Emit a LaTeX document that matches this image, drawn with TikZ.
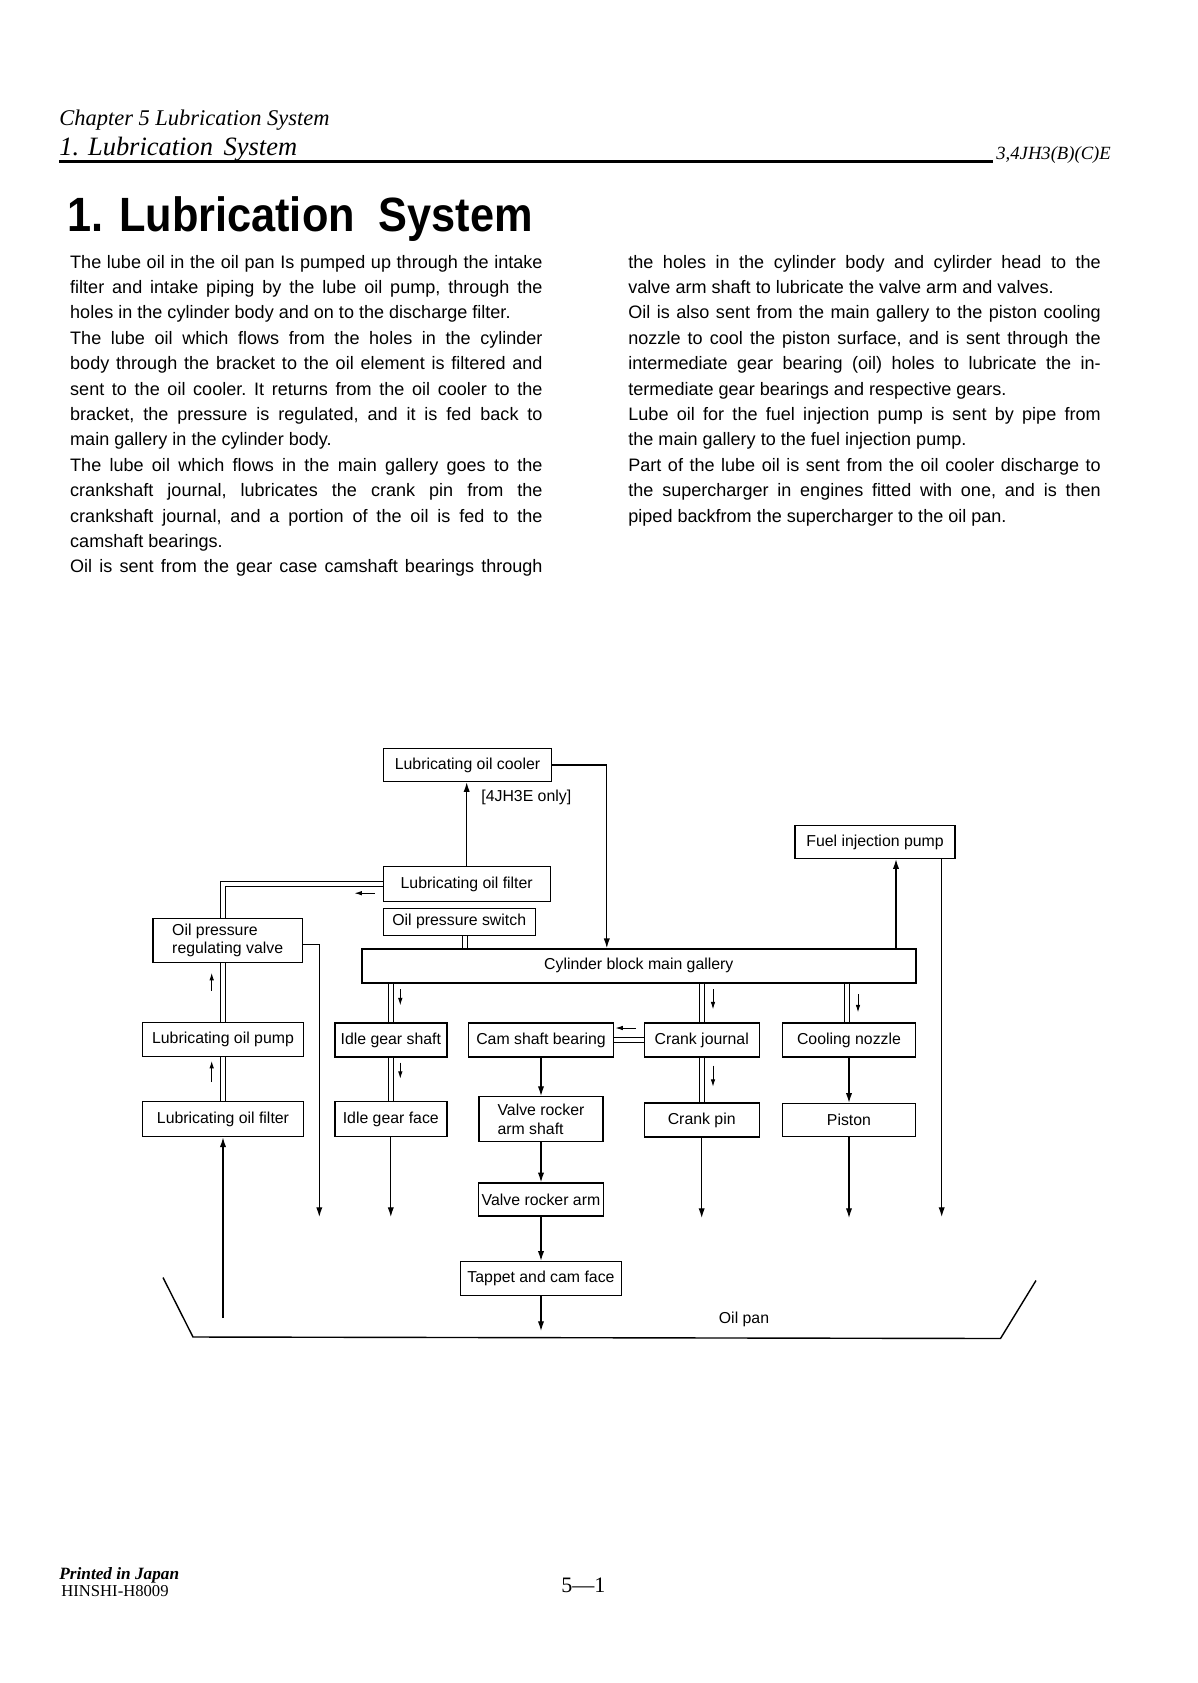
\documentclass[tikz,border=0pt]{standalone}
\usepackage{fontspec}
\usepackage{graphicx}
\usetikzlibrary{arrows.meta,calc}
\setmainfont{Liberation Serif}
\newfontfamily\sansfont{Liberation Sans}
\def\pu{0.17529mm}
\newcommand\bodyfont{\sansfont\fontsize{9}{12.67}\selectfont\parindent=0pt\frenchspacing\hbadness=10000}
\newcommand\boxfont{\sansfont\fontsize{7.9}{9.2}\selectfont}
\tikzset{
  box/.style={draw, line width=0.7pt, inner sep=1pt, minimum height=34*\pu, font=\boxfont},
  flow/.style={->, line width=0.6pt},
  dline/.style={double, double distance=0.77mm, line width=0.45pt},
  flowtick/.style={-{Latex[length=1.3mm,width=0.8mm]}, line width=0.45pt},
  bodytext/.style={anchor=base west, inner sep=0pt, text width=82.8mm, align=justify, font=\bodyfont},
  header/.style={anchor=base west, inner sep=0pt},
}
\begin{document}
\begin{tikzpicture}[x=\pu, y=-\pu, >={Latex[length=1.7mm,width=1.1mm]}]
  \path[use as bounding box, fill=white] (0,0) rectangle (1198,1683);
  % page header
  \node[header, font=\itshape\fontsize{11.2}{13}\selectfont] (chapter) at (59,125.5) {Chapter 5 Lubrication System};
  \node[header, font=\itshape\fontsize{13.2}{15}\selectfont] (section) at (59,155.5) {1. Lubrication\hspace{0.4em}System};
  \node[header, font=\itshape\fontsize{9.3}{11}\selectfont] (model) at (996,159) {3,4JH3(B)(C)E};
  \draw[line width=1.2pt] (59,161.5) -- (993,161.5);
  \node[header] (title) at (66.6,231) {\scalebox{0.9}[1]{\sansfont\bfseries\fontsize{24}{28}\selectfont 1. Lubrication\hspace{0.55em}System}};
  % two text columns
  \node[bodytext] (leftcol) at (69.8,268) {%
    The lube oil in the oil pan Is pumped up through the intake\linebreak
    filter and intake piping by the lube oil pump, through the\linebreak
    holes in the cylinder body and on to the discharge filter.\par
    The lube oil which flows from the holes in the cylinder\linebreak
    body through the bracket to the oil element is filtered and\linebreak
    sent to the oil cooler. It returns from the oil cooler to the\linebreak
    bracket, the pressure is regulated, and it is fed back to\linebreak
    main gallery in the cylinder body.\par
    The lube oil which flows in the main gallery goes to the\linebreak
    crankshaft journal, lubricates the crank pin from the\linebreak
    crankshaft journal, and a portion of the oil is fed to the\linebreak
    camshaft bearings.\par
    Oil is sent from the gear case camshaft bearings through{\parfillskip=0pt\par}};
  \node[bodytext] (rightcol) at (628,268) {%
    the holes in the cylinder body and cylirder head to the\linebreak
    valve arm shaft to lubricate the valve arm and valves.\par
    Oil is also sent from the main gallery to the piston cooling\linebreak
    nozzle to cool the piston surface, and is sent through the\linebreak
    intermediate gear bearing (oil) holes to lubricate the in-\linebreak
    termediate gear bearings and respective gears.\par
    Lube oil for the fuel injection pump is sent by pipe from\linebreak
    the main gallery to the fuel injection pump.\par
    Part of the lube oil is sent from the oil cooler discharge to\linebreak
    the supercharger in engines fitted with one, and is then\linebreak
    piped backfrom the supercharger to the oil pan.};
  % boxes of the oil circuit
  \node[box, minimum width=168*\pu, minimum height=33*\pu] (cooler) at (467.5,765) {Lubricating oil cooler};
  \node[box, minimum width=167*\pu, minimum height=35*\pu] (filtup) at (466.7,884.2) {Lubricating oil filter};
  \node[box, minimum width=152*\pu, minimum height=27*\pu] (switch) at (459.2,921.7) {Oil pressure switch};
  \node[box, minimum width=149*\pu, minimum height=44*\pu, align=left] (regvalve) at (227.7,940.2) {Oil pressure\\regulating valve};
  \node[box, minimum width=161*\pu] (pump) at (223,1039.3) {Lubricating oil pump};
  \node[box, minimum width=161*\pu, minimum height=35*\pu] (filtlow) at (223,1119.2) {Lubricating oil filter};
  \node[box, minimum width=554*\pu] (gallery) at (638.8,965.8) {Cylinder block main gallery};
  \node[box, minimum width=112*\pu] (idleshaft) at (390.8,1040) {Idle gear shaft};
  \node[box, minimum width=112*\pu, minimum height=35*\pu] (idleface) at (390.8,1119.2) {Idle gear face};
  \node[box, minimum width=145*\pu] (cam) at (541,1040) {Cam shaft bearing};
  \node[box, minimum width=115*\pu] (crankj) at (701.7,1040) {Crank journal};
  \node[box, minimum width=115*\pu] (crankpin) at (701.7,1120) {Crank pin};
  \node[box, minimum width=133*\pu] (nozzle) at (849,1040) {Cooling nozzle};
  \node[box, minimum width=133*\pu, minimum height=33*\pu] (piston) at (849,1120) {Piston};
  \node[box, minimum width=124*\pu, minimum height=45*\pu, align=left] (rshaft) at (541,1119.2) {Valve rocker\\arm shaft};
  \node[box, minimum width=125*\pu, minimum height=33*\pu] (rarm) at (541,1199.5) {Valve rocker arm};
  \node[box, minimum width=161*\pu] (tappet) at (541,1278.5) {Tappet and cam face};
  \node[box, minimum width=160*\pu, minimum height=33*\pu] (fip) at (875,842) {Fuel injection pump};
  \node[anchor=west, inner sep=0, font=\boxfont] (onlylabel) at (481,797) {[4JH3E only]};
  % ends of the return lines in the oil pan
  \coordinate (panvalve) at (319.3,1217);
  \coordinate (panfilter) at (223,1318);
  \coordinate (panidle) at (390.8,1217);
  \coordinate (pancrank) at (701.7,1218);
  \coordinate (pantappet) at (541,1331);
  \coordinate (panpiston) at (849,1218);
  \coordinate (panfip) at (941.7,1217);
  % connectors
  \draw[flow] (filtup.north) -- (filtup.north |- cooler.south);
  \draw[flow] (cooler.east) -| ([xshift=-32*\pu]gallery.north);
  \draw[dline] ([xshift=6*\pu]switch.south) -- ([xshift=6*\pu]switch.south |- gallery.north);
  \draw[dline] (filtup.west) -| ([xshift=-5*\pu]regvalve.north);
  \draw[flowtick] ($(filtup.west)+(-8,9)$) -- ++(-20,0);
  \draw[flow] ([yshift=-4*\pu]regvalve.east) -| (panvalve);
  \draw[dline] (pump.north) -- (pump.north |- regvalve.south);
  \draw[flowtick] ($(regvalve.south)+(-16,28)$) -- ++(0,-18);
  \draw[dline] (filtlow.north) -- (pump.south);
  \draw[flowtick] ($(pump.south)+(-11.3,25)$) -- ++(0,-21);
  \draw[flow] (panfilter) -- (filtlow.south);
  \draw[dline] (idleshaft.north |- gallery.south) -- (idleshaft.north);
  \draw[flowtick] ($(idleshaft.north)+(9.5,-33)$) -- ++(0,16);
  \draw[dline] (idleshaft.south) -- (idleface.north);
  \draw[flowtick] ($(idleshaft.south)+(9.5,5)$) -- ++(0,16);
  \draw[flow] (idleface.south) -- (panidle);
  \draw[dline] (crankj.north |- gallery.south) -- (crankj.north);
  \draw[flowtick] ($(crankj.north)+(11.3,-33)$) -- ++(0,20);
  \draw[dline] (crankj.south) -- (crankpin.north);
  \draw[flowtick] ($(crankj.south)+(11.3,8)$) -- ++(0,21);
  \draw[flow] (crankpin.south) -- (pancrank);
  \draw[dline] (crankj.west) -- (crankj.west -| cam.east);
  \draw[flowtick] ($(crankj.west)+(-8,-12)$) -- ++(-20,0);
  \draw[flow] (cam.south) -- (rshaft.north);
  \draw[flow] (rshaft.south) -- (rarm.north);
  \draw[flow] (rarm.south) -- (tappet.north);
  \draw[flow] (tappet.south) -- (pantappet);
  \draw[dline] ([xshift=-2*\pu]nozzle.north |- gallery.south) -- ([xshift=-2*\pu]nozzle.north);
  \draw[flowtick] ($(nozzle.north)+(9,-28)$) -- ++(0,18);
  \draw[flow] (nozzle.south) -- (piston.north);
  \draw[flow] (piston.south) -- (panpiston);
  \draw[flow] ([xshift=21*\pu]fip.south |- gallery.north) -- ([xshift=21*\pu]fip.south);
  \draw[flow] (fip.south -| panfip) -- (panfip);
  % oil pan
  \draw[line width=0.7pt] (163,1277.5) -- (193,1337) -- (1000.5,1338.5) -- (1036,1280.5);
  \node[font=\boxfont] (panlabel) at (744,1319) {Oil pan};
  % page footer
  \node[header, font=\bfseries\itshape\fontsize{8.6}{10}\selectfont] (printed) at (59,1579) {Printed in Japan};
  \node[header, font=\fontsize{8.3}{10}\selectfont] (docno) at (61,1596) {HINSHI-H8009};
  \node[header, font=\fontsize{11}{13}\selectfont] (pageno) at (561,1592) {5—1};
\end{tikzpicture}
\end{document}
